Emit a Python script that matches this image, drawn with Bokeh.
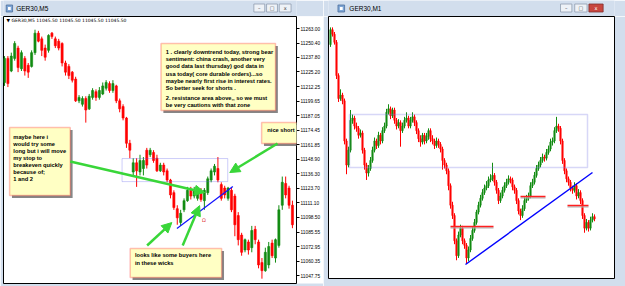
from bokeh.plotting import figure
from bokeh.layouts import row, column
from bokeh.models import (ColumnDataSource, FixedTicker, PrintfTickFormatter, Range1d,
                          BoxAnnotation, Label, Arrow, NormalHead)
from bokeh.embed import file_html
from bokeh.resources import INLINE
from bokeh.core.properties import value

# ---------------- data ----------------
price_ticks = [11263.00, 11250.40, 11237.80, 11225.20, 11212.25, 11199.65, 11187.05,
               11174.45, 11161.85, 11148.90, 11136.30, 11123.70, 11111.10, 11098.50,
               11085.55, 11072.95, 11060.35, 11047.75]

# GER30 M5 candles (left window)
m5_open = [11216, 11237, 11226, 11237, 11246, 11228, 11237, 11231, 11230, 11242,
           11259, 11254, 11246, 11244, 11259, 11254, 11252, 11250, 11233, 11230,
           11225, 11219, 11200, 11197, 11202, 11193, 11203, 11208, 11203, 11206,
           11211, 11215, 11209, 11213, 11200, 11195, 11185, 11163, 11138, 11146,
           11138, 11141, 11157, 11153, 11155, 11150, 11139, 11144, 11139, 11131,
           11120, 11106, 11094, 11105, 11113, 11122, 11117, 11115, 11120, 11113,
           11120, 11131, 11138, 11141, 11127, 11124, 11115, 11122, 11117, 11100,
           11083, 11070, 11077, 11072, 11088, 11077, 11059, 11052, 11057, 11076,
           11063, 11074, 11109, 11128, 11124, 11109]
m5_high = [11239, 11239, 11242, 11252, 11248, 11244, 11239, 11233, 11244, 11262,
           11261, 11256, 11249, 11258, 11260, 11256, 11254, 11251, 11235, 11232,
           11226, 11221, 11205, 11204, 11204, 11206, 11211, 11210, 11212, 11216,
           11218, 11217, 11218, 11214, 11202, 11197, 11186, 11166, 11150, 11150,
           11153, 11151, 11159, 11159, 11157, 11153, 11146, 11146, 11141, 11132,
           11122, 11109, 11105, 11115, 11125, 11125, 11125, 11125, 11124, 11124,
           11134, 11141, 11145, 11151, 11129, 11126, 11125, 11124, 11119, 11103,
           11085, 11080, 11079, 11091, 11091, 11079, 11063, 11072, 11077, 11079,
           11080, 11109, 11134, 11134, 11126, 11113]
m5_low = [11213, 11212, 11225, 11235, 11225, 11226, 11222, 11220, 11229, 11240,
          11251, 11239, 11235, 11242, 11254, 11246, 11244, 11230, 11222, 11219,
          11216, 11199, 11198, 11195, 11181, 11192, 11201, 11200, 11201, 11205,
          11209, 11207, 11207, 11198, 11190, 11183, 11159, 11150, 11134, 11125,
          11135, 11135, 11141, 11151, 11146, 11138, 11138, 11135, 11129, 11115,
          11105, 11092, 11091, 11103, 11112, 11114, 11115, 11113, 11112, 11105,
          11118, 11129, 11135, 11129, 11113, 11115, 11113, 11103, 11082, 11074,
          11065, 11068, 11066, 11068, 11075, 11054, 11045, 11051, 11054, 11063,
          11059, 11072, 11105, 11115, 11106, 11089]
m5_close = [11237, 11215, 11239, 11250, 11229, 11242, 11226, 11225, 11242, 11259,
            11252, 11244, 11238, 11257, 11256, 11248, 11246, 11233, 11225, 11222,
            11218, 11200, 11203, 11202, 11192, 11204, 11209, 11203, 11209, 11213,
            11216, 11209, 11215, 11200, 11193, 11185, 11163, 11157, 11146, 11139,
            11148, 11148, 11144, 11157, 11148, 11139, 11144, 11138, 11131, 11118,
            11107, 11098, 11102, 11113, 11122, 11117, 11122, 11122, 11114, 11122,
            11132, 11139, 11143, 11131, 11115, 11118, 11124, 11105, 11092, 11079,
            11068, 11079, 11070, 11087, 11079, 11057, 11052, 11068, 11073, 11065,
            11079, 11105, 11129, 11118, 11109, 11092]

# GER30 M1 candles (right window)
m1_first_open = 11249
m1_close = [11262, 11258, 11251, 11222, 11202, 11205, 11200, 11165, 11144, 11157,
            11183, 11185, 11178, 11176, 11170, 11172, 11157, 11144, 11137, 11141,
            11148, 11157, 11165, 11161, 11170, 11165, 11174, 11178, 11190, 11193,
            11187, 11192, 11183, 11178, 11181, 11174, 11178, 11183, 11185, 11178,
            11183, 11186, 11181, 11174, 11167, 11164, 11170, 11165, 11169, 11174,
            11167, 11165, 11161, 11165, 11162, 11158, 11148, 11144, 11139, 11126,
            11109, 11100, 11078, 11065, 11083, 11089, 11078, 11074, 11063, 11070,
            11080, 11087, 11094, 11103, 11109, 11115, 11120, 11124, 11126, 11131,
            11132, 11135, 11129, 11122, 11113, 11117, 11122, 11126, 11129, 11132,
            11131, 11125, 11122, 11113, 11104, 11100, 11106, 11113, 11115, 11117,
            11126, 11129, 11135, 11141, 11144, 11148, 11151, 11150, 11155, 11158,
            11164, 11165, 11174, 11178, 11176, 11165, 11148, 11139, 11132, 11129,
            11124, 11122, 11126, 11117, 11120, 11113, 11100, 11089, 11094, 11089,
            11096, 11099, 11097]
m1_high = [11264, 11264, 11260, 11253, 11224, 11210, 11207, 11202, 11167, 11160,
           11192, 11188, 11187, 11181, 11178, 11175, 11174, 11159, 11146, 11144,
           11151, 11160, 11168, 11167, 11173, 11172, 11177, 11181, 11193, 11197,
           11195, 11194, 11194, 11185, 11184, 11183, 11181, 11186, 11190, 11187,
           11186, 11190, 11188, 11183, 11176, 11170, 11172, 11172, 11172, 11176,
           11176, 11170, 11167, 11168, 11167, 11164, 11160, 11150, 11146, 11141,
           11128, 11112, 11102, 11080, 11086, 11092, 11091, 11080, 11076, 11073,
           11083, 11090, 11097, 11105, 11112, 11118, 11123, 11127, 11130, 11134,
           11136, 11146, 11137, 11131, 11124, 11120, 11125, 11129, 11132, 11135,
           11134, 11133, 11127, 11124, 11115, 11106, 11109, 11116, 11118, 11120,
           11129, 11132, 11138, 11144, 11147, 11151, 11154, 11153, 11158, 11161,
           11167, 11168, 11177, 11186, 11180, 11178, 11167, 11150, 11141, 11134,
           11131, 11126, 11129, 11128, 11123, 11122, 11115, 11102, 11097, 11096,
           11099, 11102, 11101]
m1_low = [11247, 11256, 11249, 11219, 11199, 11200, 11197, 11162, 11136, 11142,
          11155, 11180, 11175, 11173, 11167, 11168, 11154, 11140, 11131, 11134,
          11139, 11146, 11155, 11158, 11159, 11162, 11163, 11172, 11176, 11188,
          11184, 11185, 11180, 11175, 11176, 11160, 11172, 11176, 11181, 11176,
          11176, 11181, 11178, 11171, 11164, 11160, 11162, 11162, 11163, 11166,
          11164, 11162, 11158, 11159, 11159, 11155, 11140, 11141, 11136, 11122,
          11106, 11097, 11075, 11061, 11063, 11081, 11075, 11071, 11058, 11060,
          11068, 11078, 11085, 11092, 11101, 11107, 11113, 11118, 11122, 11124,
          11129, 11130, 11126, 11119, 11110, 11111, 11115, 11120, 11124, 11127,
          11128, 11122, 11119, 11110, 11101, 11096, 11098, 11104, 11111, 11113,
          11115, 11124, 11127, 11133, 11139, 11142, 11146, 11147, 11148, 11153,
          11156, 11161, 11163, 11172, 11173, 11162, 11145, 11136, 11129, 11126,
          11121, 11119, 11120, 11114, 11115, 11110, 11097, 11085, 11087, 11086,
          11087, 11094, 11095]

m5_title = "GER30,M5"
m1_title = "GER30,M1"
m5_header = "\u25bc GER30,M5  11045.50 11045.50 11045.50 11045.50"
note1_a = ("1 .  clearly downtrend today, strong bear\n"
           "sentiment: china crash, another very\n"
           "good data last thursday)  god data in\n"
           "usa today( core durable orders)...so\n"
           "maybe nearly first rise in interest rates.\n"
           "So better seek for shorts .")
note1_b = "2.  resistance area above,, so we must\nbe very cautions with that zone"
note2 = ("maybe here i\nwould try some\nlong but i will move\nmy stop to\n"
         "breakeven quickly\nbecause of;\n1 and 2")
note3 = "nice short"
note4 = "looks like some buyers  here\nin these wicks"

# ---------------- styles ----------------
GREEN = "#128c12"
RED = "#ff0000"
CHROME = "#d2deed"
NOTE_FILL = "#ffffc4"
NOTE_LINE = "#ff2a2a"
ARROW = "#39d639"
FONT = "Liberation Sans"


def draw_candles(p, o, h, l, c, width):
    idx = list(range(len(c)))
    colors = [GREEN if cc > oo else RED for oo, cc in zip(o, c)]
    src = ColumnDataSource(dict(x=idx, h=h, l=l,
                                top=[max(a, b) for a, b in zip(o, c)],
                                bottom=[min(a, b) for a, b in zip(o, c)],
                                color=colors))
    p.segment(x0="x", y0="h", x1="x", y1="l", line_color="color", line_width=1, source=src)
    p.vbar(x="x", width=width, top="top", bottom="bottom", fill_color="color",
           line_color="color", line_width=0.6, source=src)


def note(p, left, right, bottom, top, dx, dy):
    p.add_layout(BoxAnnotation(left=left + dx, right=right + dx, bottom=bottom - dy, top=top - dy,
                               fill_color="#7a7a7a", fill_alpha=0.9, line_alpha=0))
    p.add_layout(BoxAnnotation(left=left, right=right, bottom=bottom, top=top,
                               fill_color=NOTE_FILL, fill_alpha=1, line_color=NOTE_LINE,
                               line_width=1.5))


def text(p, x, y, t, lh=1.2, size="5.7px"):
    p.add_layout(Label(x=x, y=y, text=t, text_font=FONT, text_font_size=size,
                       text_font_style="bold", text_color="black", text_baseline="top",
                       text_align="left", text_line_height=lh))


def arrow(p, x0, y0, x1, y1):
    p.add_layout(Arrow(end=NormalHead(size=10, fill_color=ARROW, line_color=ARROW),
                       x_start=x0, y_start=y0, x_end=x1, y_end=y1,
                       line_color=ARROW, line_width=2.5))


def title_bar(width, title, icon_x, text_x, btn_lefts, btn_widths, active):
    tb = figure(width=width, height=16, output_backend="svg", toolbar_location=None,
                x_range=Range1d(0, width), y_range=Range1d(16, 0), title=None,
                x_axis_location=None, y_axis_location=None,
                min_border_left=0, min_border_right=0, min_border_top=0, min_border_bottom=0,
                background_fill_color=CHROME, border_fill_color=CHROME, outline_line_color=None)
    tb.grid.visible = False
    tb.quad(left=[icon_x], right=[icon_x + 7], top=[4.5], bottom=[11.5],
            fill_color="#7ea6d6", line_color="#4d6f9c", line_width=0.8)
    tb.quad(left=[icon_x + 2], right=[icon_x + 5], top=[6.5], bottom=[9.5],
            fill_color="white", line_alpha=0)
    tb.text(x=[text_x], y=[8.3], text=[title], text_font=value(FONT),
            text_font_size=value("6.5px"), text_baseline="middle", text_align="left",
            text_color="black")
    fills = ["#eef2f7", "#eef2f7", "#c8463f" if active else "#eef2f7"]
    lines = ["#8f9db0", "#8f9db0", "#7d3030" if active else "#8f9db0"]
    marks = ["\u2013", "\u25a1", "x"]
    mcols = ["#444444", "#444444", "white" if active else "#444444"]
    lefts = btn_lefts
    rights = [a + w for a, w in zip(btn_lefts, btn_widths)]
    tb.quad(left=lefts, right=rights, top=[3.5] * 3, bottom=[11.5] * 3,
            fill_color=fills, line_color=lines, line_width=0.8)
    tb.text(x=[(a + b) / 2 for a, b in zip(lefts, rights)], y=[7.8] * 3, text=marks,
            text_font=value("DejaVu Sans"), text_font_size=value("5px"),
            text_baseline="middle", text_align="center", text_color=mcols)
    return tb


# ---------------- left window: GER30,M5 ----------------
pL = figure(width=323, height=270, output_backend="svg", toolbar_location=None,
            x_range=Range1d(-0.3, 86.2), y_range=Range1d(11040.8, 11273.5), title=None,
            x_axis_location=None, y_axis_location="right",
            min_border_left=3, min_border_right=26, min_border_top=0, min_border_bottom=3,
            background_fill_color="white", border_fill_color=CHROME,
            outline_line_color="black")
pL.grid.visible = False
ax = pL.yaxis[0]
ax.ticker = FixedTicker(ticks=price_ticks)
ax.formatter = PrintfTickFormatter(format="%.2f")
ax.major_label_text_font = FONT
ax.major_label_text_font_size = "4.8px"
ax.major_label_text_color = "black"
ax.major_tick_in = 0
ax.major_tick_out = 3
ax.minor_tick_in = 0
ax.minor_tick_out = 0
ax.major_label_standoff = 1
ax.axis_line_color = "black"
try:
    ax.background_fill_color = "white"
except Exception:
    pass

draw_candles(pL, m5_open, m5_high, m5_low, m5_close, 0.62)

pL.add_layout(Label(x=0.6, y=11273.5, y_offset=-1.5, text=m5_header, text_font="DejaVu Sans",
                    text_font_size="4.5px", text_color="black", text_baseline="top"))

# resistance box and trend line
pL.add_layout(BoxAnnotation(left=34.7, right=65.9, bottom=11129.6, top=11149.7,
                            fill_alpha=0, line_color="#5a5aea", line_width=1))
pL.segment(x0=[50.9], y0=[11088.7], x1=[67.4], y1=[11125.3], line_color="#1010ff", line_width=1.2)

# notes
note(pL, 46.2, 80.0, 11191.5, 11250.0, 0.7, 2.2)
note(pL, 1.5, 19.4, 11117.5, 11176.7, 0.7, 2.2)
note(pL, 75.9, 96.2, 11162.8, 11181.1, 0.7, 2.2)
note(pL, 37.1, 64.1, 11046.0, 11071.3, 0.7, 2.2)
text(pL, 47.6, 11245.6, note1_a, lh=1.23)
text(pL, 47.6, 11205.0, note1_b, lh=1.23)
text(pL, 2.6, 11171.1, note2, lh=1.18)
text(pL, 77.6, 11177.2, note3)
text(pL, 38.5, 11068.2, note4, lh=1.4)

arrow(pL, 19.4, 11147.1, 59.1, 11120.1)
arrow(pL, 80.6, 11162.8, 66.5, 11137.5)
arrow(pL, 42.1, 11073.9, 49.4, 11093.9)
arrow(pL, 52.6, 11073.9, 57.6, 11108.7)

pL.add_layout(Label(x=58.3, y=11096.0, text="\u03a9", text_font="DejaVu Sans",
                    text_font_size="5px", text_color="#e03030", text_baseline="middle"))

# ---------------- right window: GER30,M1 ----------------
pR = figure(width=302, height=270, output_backend="svg", toolbar_location=None,
            x_range=Range1d(-1, 142), y_range=Range1d(11045.1, 11273.5), title=None,
            x_axis_location=None, y_axis_location=None,
            min_border_left=5, min_border_right=11, min_border_top=0, min_border_bottom=8,
            background_fill_color="white", border_fill_color=CHROME,
            outline_line_color="black")
pR.grid.visible = False

m1_open = [m1_first_open] + m1_close[:-1]
draw_candles(pR, m1_open, m1_high, m1_low, m1_close, 0.7)

pR.add_layout(BoxAnnotation(left=9.5, right=128.5, bottom=11141.9, top=11188.1,
                            fill_alpha=0, line_color="#7b7be6", line_width=1.5))
pR.segment(x0=[67.5], y0=[11057.3], x1=[131], y1=[11137.5], line_color="#0000ff", line_width=1.4)
lv_x0 = [60, 95, 118.5]
lv_x1 = [81.5, 107.5, 129]
lv_y = [11090.4, 11116.6, 11108.7]
pR.segment(x0=lv_x0, y0=[v - 1.2 for v in lv_y], x1=lv_x1, y1=[v - 1.2 for v in lv_y],
           line_color="#b0b0b0", line_width=1.2)
pR.segment(x0=lv_x0, y0=lv_y, x1=lv_x1, y1=lv_y, line_color="#ff2020", line_width=1.4)

tbL = title_bar(323, m5_title, 3, 14, [276, 290, 304], [12, 12, 13], False)
tbR = title_bar(302, m1_title, 10, 22, [245, 260, 275], [12, 13, 15], True)

layout = row(column(tbL, pL), column(tbR, pR))
open("out.html", "w").write(file_html(layout, INLINE))
